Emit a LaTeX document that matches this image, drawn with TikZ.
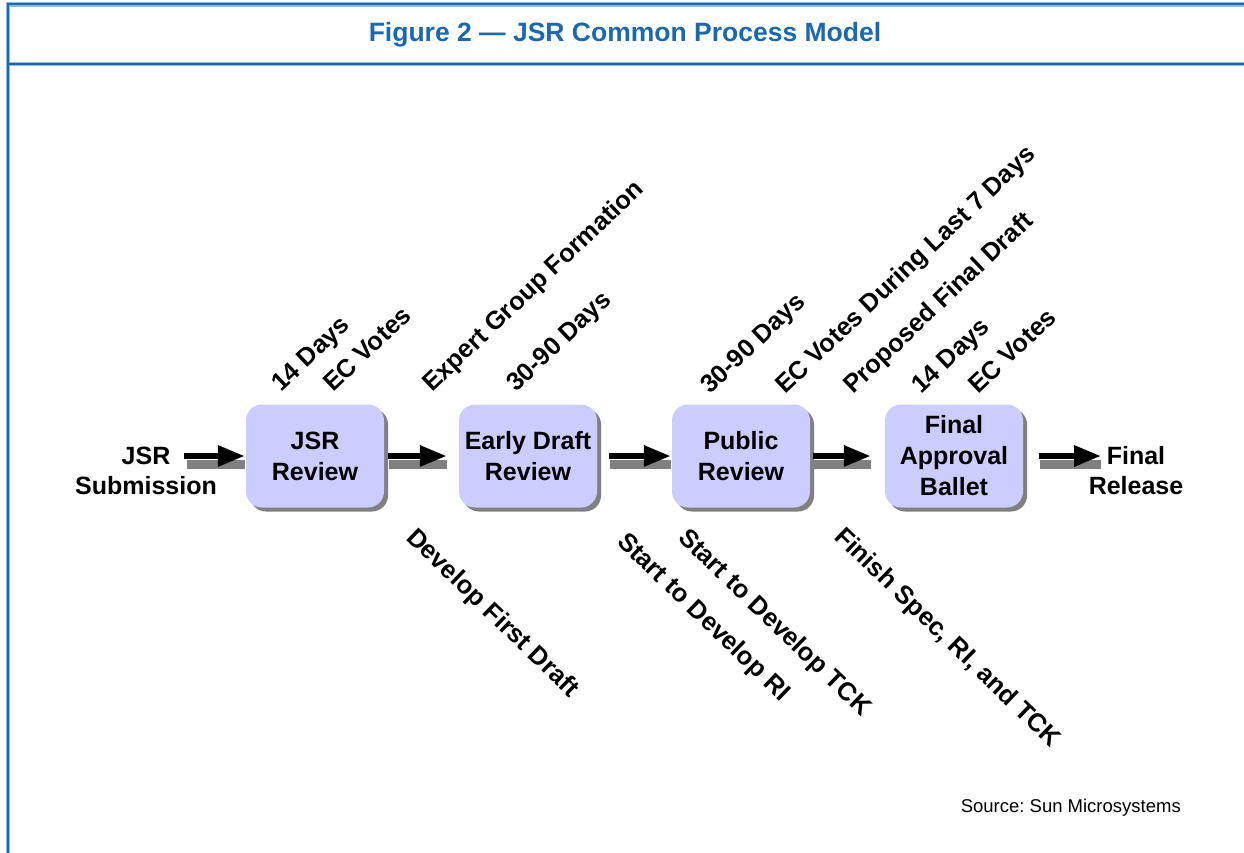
\documentclass[tikz,border=0pt]{standalone}
\usepackage{fontspec}
\setmainfont{Liberation Sans}
\usetikzlibrary{arrows.meta,shadows}
\definecolor{frameblue}{HTML}{1A68AE}
\definecolor{framelite}{HTML}{8FBAE0}
\definecolor{boxfill}{HTML}{CCCCFF}
\definecolor{shade}{HTML}{808080}
\tikzset{
  rule/.style={draw=frameblue, line width=2pt},
  rulelite/.style={draw=framelite, line width=4.5pt},
  stage/.style={rounded corners=16pt, fill=boxfill, minimum width=138pt, minimum height=103pt,
    inner sep=0pt, align=center, font=\fontsize{25}{31}\selectfont\bfseries,
    drop shadow={shadow xshift=4pt, shadow yshift=-4pt, fill=shade, opacity=1}},
  flow/.style={draw=black, line width=6pt, -{Triangle[length=27pt,width=20pt]}},
  flowbar/.style={draw=shade, line width=9pt},
  endlab/.style={align=center, inner sep=0pt, font=\fontsize{25}{30}\selectfont\bfseries},
  noteup/.style={anchor=base west, rotate=43.5, inner sep=0pt, font=\fontsize{25.4}{25.4}\selectfont\bfseries},
  notedn/.style={anchor=base west, rotate=-44, inner sep=0pt, font=\fontsize{25.6}{25.6}\selectfont\bfseries},
}

\begin{document}
\begin{tikzpicture}[x=1pt, y=-1pt]
  \useasboundingbox (0,0) rectangle (1244,853);
  % frame
  \draw[rulelite] (1244,4.5) -- (8,4.5) -- (8,853);
  \draw[rulelite] (8,64) -- (1244,64);
  \draw[rule] (1244,4.5) -- (8,4.5) -- (8,853);
  \draw[rule] (8,64) -- (1244,64);
  \node[text=frameblue, font=\fontsize{26.5}{26.5}\selectfont\bfseries] (title) at (625,35)
    {Figure 2 --- JSR Common Process Model};

  % stages
  \node[stage] (jsr) at (315,456) {JSR\\Review};
  \node[stage] (edr) at (528,456) {Early Draft\\Review};
  \node[stage] (pub) at (741,456) {Public\\Review};
  \node[stage] (fab) at (954,456) {Final\\Approval\\Ballet};

  \node[endlab] (sub) at (146,471) {JSR\\Submission};
  \node[endlab] (rel) at (1136,471) {Final\\Release};
  \coordinate (in0) at (184,456);
  \coordinate (out0) at (1101,456);

  % arrows
  \draw[flowbar] ([shift={(3,8.5)}]in0) -- ([shift={(-1,8.5)}]jsr.west);
  \draw[flow] (in0) -- ([xshift=-1pt]jsr.west);
  \draw[flowbar] ([shift={(5,8.5)}]jsr.east) -- ([shift={(-12,8.5)}]edr.west);
  \draw[flow] ([xshift=4pt]jsr.east) -- ([xshift=-12pt]edr.west);
  \draw[flowbar] ([shift={(13,8.5)}]edr.east) -- ([shift={(-1,8.5)}]pub.west);
  \draw[flow] ([xshift=12pt]edr.east) -- ([xshift=-1pt]pub.west);
  \draw[flowbar] ([shift={(4,8.5)}]pub.east) -- ([shift={(-14,8.5)}]fab.west);
  \draw[flow] ([xshift=3pt]pub.east) -- ([xshift=-14pt]fab.west);
  \draw[flowbar] ([shift={(17,8.5)}]fab.east) -- ([shift={(0,8.5)}]out0);
  \draw[flow] ([xshift=16pt]fab.east) -- (out0);

  % notes above
  \node[noteup] (n1) at (281,393) {14 Days};
  \node[noteup] (n2) at (333,393) {EC Votes};
  \node[noteup] (n3) at (432,393) {Expert Group Formation};
  \node[noteup] (n4) at (516,393) {30-90 Days};
  \node[noteup] (n5) at (710,395) {30-90 Days};
  \node[noteup] (n6) at (785,395) {EC Votes During Last 7 Days};
  \node[noteup] (n7) at (853,395) {Proposed Final Draft};
  \node[noteup] (n8) at (921,395) {14 Days};
  \node[noteup] (n9) at (978,395) {EC Votes};

  % notes below
  \node[notedn] (d1) at (405,539) {Develop First Draft};
  \node[notedn] (d2) at (616,543) {Start to Develop RI};
  \node[notedn] (d3) at (677,539) {Start to Develop TCK};
  \node[notedn] (d4) at (833,538) {Finish Spec, RI, and TCK};

  \node[anchor=base east, inner sep=0pt, font=\fontsize{18.5}{18.5}\selectfont] (src) at (1181,812)
    {Source:\ Sun Microsystems};
\end{tikzpicture}
\end{document}
